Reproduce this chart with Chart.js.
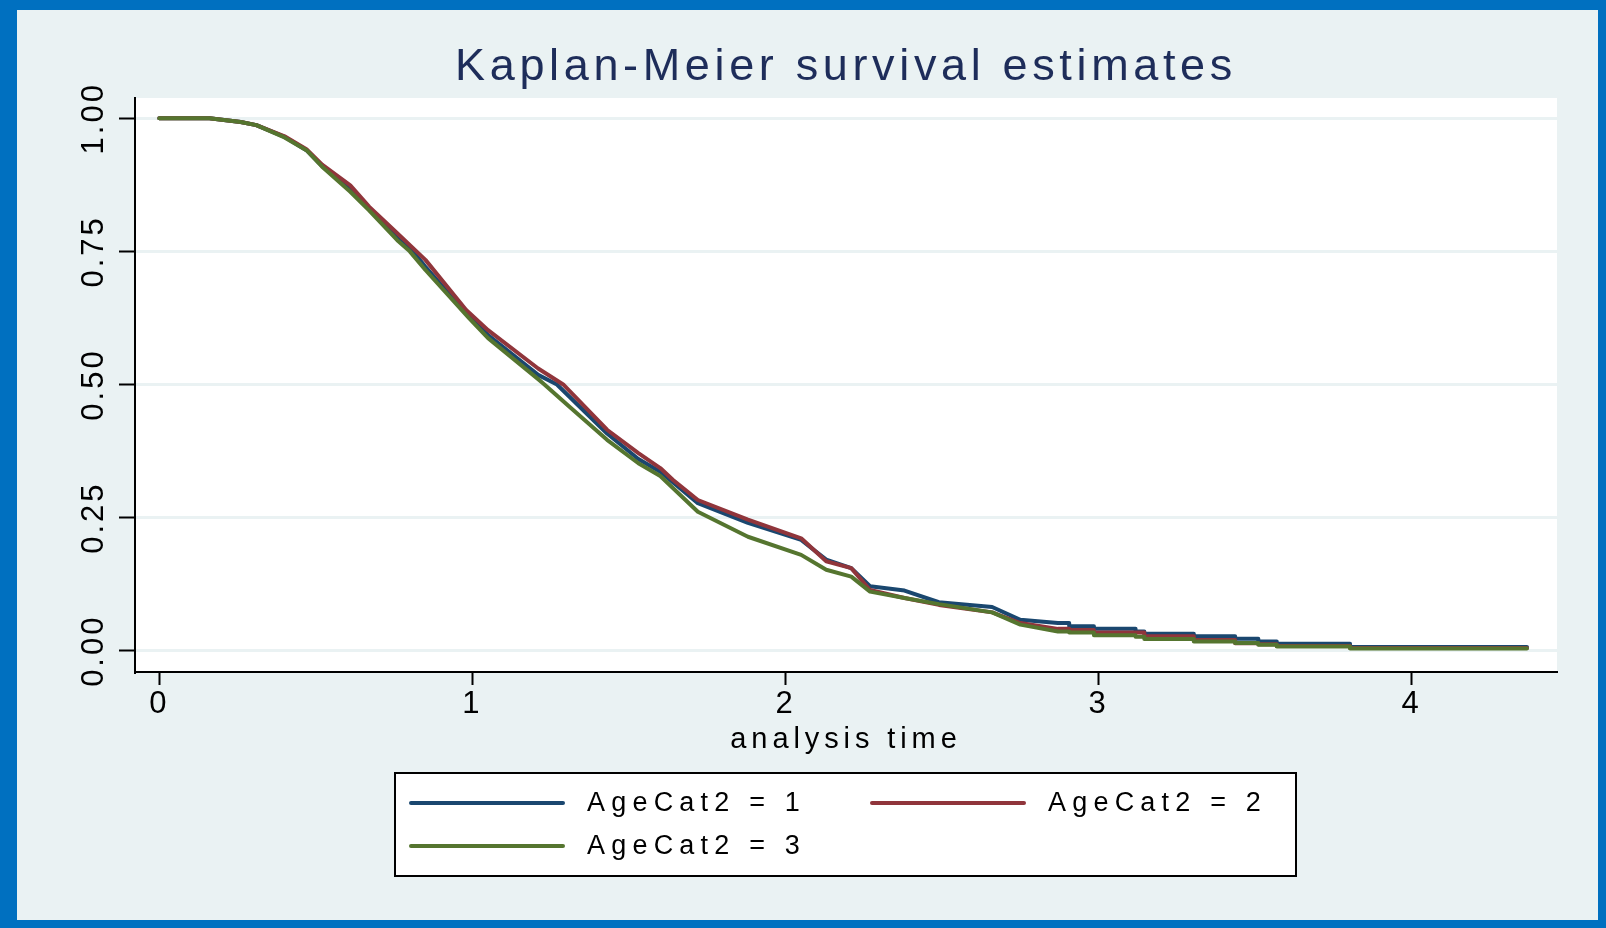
<!DOCTYPE html>
<html>
<head>
<meta charset="utf-8">
<title>Kaplan-Meier survival estimates</title>
<script src="https://cdn.jsdelivr.net/npm/chart.js@4.4.1/dist/chart.umd.min.js"></script>
<style>
  html, body { margin: 0; padding: 0; background: #0070C0; overflow: hidden; }
  canvas { display: block; }
</style>
</head>
<body>
<canvas id="km" width="1606" height="928"></canvas>
<script>
// ticks
const xTicks = [0, 1, 2, 3, 4];
const yTicks = [0, 0.25, 0.5, 0.75, 1];
const yTickLabels = ['0.00', '0.25', '0.50', '0.75', '1.00'];
const groupLabels = ['AgeCat2 = 1', 'AgeCat2 = 2', 'AgeCat2 = 3'];

// AgeCat2 = 1
const time1 = [0, 0.16, 0.26, 0.31, 0.40, 0.47, 0.52, 0.61, 0.67, 0.76,
  0.81, 0.85, 0.99, 1.05, 1.21, 1.27, 1.31, 1.43, 1.53,
  1.60, 1.72, 1.88, 2.05, 2.13, 2.21, 2.27, 2.38, 2.49, 2.66,
  2.75, 2.87, 2.906, 2.906, 2.985, 2.985, 3.118, 3.118, 3.146, 3.146,
  3.304, 3.304, 3.436, 3.436, 3.51, 3.51, 3.569, 3.569, 3.803, 3.803, 4.368];
const surv1 = [1, 1, 0.993, 0.987, 0.965, 0.94, 0.91, 0.868, 0.83, 0.775,
  0.75, 0.721, 0.627, 0.593, 0.518, 0.5, 0.477, 0.408, 0.36,
  0.336, 0.277, 0.24, 0.208, 0.171, 0.155, 0.121, 0.113, 0.091, 0.082,
  0.058, 0.052, 0.052, 0.046, 0.046, 0.041, 0.041, 0.036, 0.036, 0.032,
  0.032, 0.027, 0.027, 0.0225, 0.0225, 0.0175, 0.0175, 0.013, 0.013, 0.007, 0.007];

// AgeCat2 = 2
const time2 = [0, 0.16, 0.26, 0.31, 0.40, 0.47, 0.52, 0.61, 0.67,
  0.76, 0.85, 0.98, 1.05, 1.21, 1.29, 1.31, 1.43, 1.53,
  1.60, 1.64, 1.72, 1.88, 2.05, 2.13, 2.21, 2.27, 2.38, 2.49,
  2.66, 2.75, 2.87, 2.906, 2.906, 2.985, 2.985, 3.146, 3.146, 3.304,
  3.304, 3.436, 3.436, 3.51, 3.51, 3.569, 3.569, 3.803, 3.803, 4.368];
const surv2 = [1, 1, 0.993, 0.987, 0.966, 0.942, 0.913, 0.874, 0.834,
  0.784, 0.734, 0.64, 0.602, 0.53, 0.5, 0.488, 0.415, 0.371,
  0.343, 0.321, 0.283, 0.246, 0.211, 0.168, 0.155, 0.114, 0.099, 0.086,
  0.072, 0.052, 0.041, 0.041, 0.039, 0.039, 0.034, 0.034, 0.027, 0.027,
  0.02, 0.02, 0.014, 0.014, 0.012, 0.012, 0.009, 0.009, 0.005, 0.005];

// AgeCat2 = 3
const time3 = [0, 0.16, 0.26, 0.31, 0.40, 0.47, 0.52, 0.61, 0.67, 0.76,
  0.80, 0.85, 0.99, 1.05, 1.21, 1.23, 1.31, 1.43, 1.53,
  1.60, 1.72, 1.88, 2.05, 2.13, 2.21, 2.27, 2.38, 2.49, 2.66,
  2.75, 2.87, 2.906, 2.906, 2.985, 2.985, 3.118, 3.118, 3.146, 3.146,
  3.304, 3.304, 3.436, 3.436, 3.51, 3.51, 3.569, 3.569, 3.803, 3.803, 4.368];
const surv3 = [1, 1, 0.993, 0.987, 0.964, 0.94, 0.909, 0.862, 0.827, 0.771,
  0.75, 0.715, 0.624, 0.587, 0.51, 0.5, 0.458, 0.396, 0.352,
  0.328, 0.261, 0.214, 0.18, 0.152, 0.139, 0.111, 0.099, 0.0875, 0.072,
  0.049, 0.036, 0.036, 0.034, 0.034, 0.029, 0.029, 0.026, 0.026, 0.022,
  0.022, 0.0175, 0.0175, 0.0144, 0.0144, 0.0113, 0.0113, 0.008, 0.008, 0.004, 0.004];

const FONT = "'Liberation Sans', Arial, Helvetica, sans-serif";
const BG = '#EAF2F3';

function toPoints(t, s) {
  return t.map((v, i) => ({x: v, y: s[i]}));
}

// stata text is widely spaced, so wrap draw calls with a letter spacing
function spaced(obj, method, sp) {
  if (!obj || obj['_sp_' + method]) return;
  const orig = obj[method];
  obj[method] = function () {
    const ctx = this.ctx;
    const prev = ctx.letterSpacing;
    ctx.letterSpacing = sp;
    try { return orig.apply(this, arguments); } finally { ctx.letterSpacing = prev; }
  };
  obj['_sp_' + method] = true;
}

const stataFrame = {
  id: 'stataFrame',
  beforeDraw(chart) {
    const {ctx, width, height, chartArea: a} = chart;
    ctx.save();
    ctx.fillStyle = '#0070C0';
    ctx.fillRect(0, 0, width, height);
    ctx.fillStyle = BG;
    ctx.fillRect(17, 10, width - 25, height - 18);
    ctx.fillStyle = '#fff';
    ctx.fillRect(a.left, a.top, a.right - a.left, a.bottom - a.top);
    ctx.restore();

    spaced(chart.titleBlock, 'draw', '4.65px');
    spaced(chart.scales.x, 'drawLabels', '3px');
    spaced(chart.scales.x, 'drawTitle', '4.9px');
    spaced(chart.scales.y, 'drawLabels', '3px');
  },
  afterDraw(chart) {
    // legend box under the axis title
    const ctx = chart.ctx;
    const box = {left: 395, top: 773, right: 1296, bottom: 876};
    const cols = [411, 872];
    const rows = [803, 846];
    ctx.save();
    ctx.fillStyle = '#fff';
    ctx.fillRect(box.left, box.top, box.right - box.left, box.bottom - box.top);
    ctx.strokeStyle = '#000';
    ctx.lineWidth = 2;
    ctx.strokeRect(box.left, box.top, box.right - box.left, box.bottom - box.top);
    ctx.font = '27px ' + FONT;
    ctx.letterSpacing = '6.2px';
    ctx.textBaseline = 'middle';
    ctx.textAlign = 'left';
    chart.data.datasets.forEach((ds, i) => {
      const x = cols[i % 2];
      const y = rows[Math.floor(i / 2)];
      ctx.strokeStyle = ds.borderColor;
      ctx.lineWidth = 4;
      ctx.lineCap = 'round';
      ctx.beginPath();
      ctx.moveTo(x, y);
      ctx.lineTo(x + 152, y);
      ctx.stroke();
      ctx.fillStyle = '#000';
      ctx.fillText(ds.label, x + 176, y + 1);
    });
    ctx.restore();
  }
};

const lineStyle = {
  borderWidth: 4,
  pointRadius: 0,
  fill: false,
  tension: 0,
  borderCapStyle: 'round',
  borderJoinStyle: 'round'
};

const config = {
  type: 'line',
  data: {
    datasets: [
      Object.assign({label: groupLabels[0], data: toPoints(time1, surv1), borderColor: '#1A476F', backgroundColor: '#1A476F', order: 3}, lineStyle),
      Object.assign({label: groupLabels[1], data: toPoints(time2, surv2), borderColor: '#90353B', backgroundColor: '#90353B', order: 2}, lineStyle),
      Object.assign({label: groupLabels[2], data: toPoints(time3, surv3), borderColor: '#55752F', backgroundColor: '#55752F', order: 1}, lineStyle)
    ]
  },
  options: {
    responsive: false,
    animation: false,
    devicePixelRatio: 1,
    layout: {padding: {left: 17, right: 49, top: 10, bottom: 8}},
    plugins: {
      legend: {display: false},
      tooltip: {enabled: false},
      title: {
        display: true,
        text: 'Kaplan-Meier survival estimates',
        fullSize: false,
        color: '#1E2D5A',
        font: {family: FONT, size: 45, weight: 'normal', lineHeight: 1.2},
        padding: {top: 31, bottom: 3}
      }
    },
    scales: {
      x: {
        type: 'linear',
        min: -0.0776,
        max: 4.464,
        afterBuildTicks: s => { s.ticks = xTicks.map(v => ({value: v})); },
        afterFit: s => { s.height = 248; },
        grid: {drawOnChartArea: false, tickLength: 13, tickColor: '#000', tickWidth: 2},
        border: {display: true, color: '#000', width: 2},
        ticks: {
          color: '#000',
          font: {family: FONT, size: 31},
          padding: 1,
          maxRotation: 0,
          autoSkip: false,
          callback: v => String(v)
        },
        title: {
          display: true,
          text: 'analysis time',
          color: '#000',
          font: {family: FONT, size: 29},
          padding: {top: 0, bottom: 162.6}
        }
      },
      y: {
        type: 'linear',
        min: -0.040,
        max: 1.038,
        afterBuildTicks: s => { s.ticks = yTicks.map(v => ({value: v})); },
        afterFit: s => { s.width = 118; },
        grid: {color: BG, lineWidth: 3, tickColor: '#000', tickWidth: 2, tickLength: 16},
        border: {display: true, color: '#000', width: 2},
        ticks: {
          color: '#000',
          font: {family: FONT, size: 31},
          minRotation: 90,
          maxRotation: 90,
          crossAlign: 'center',
          padding: -5.45,
          autoSkip: false,
          callback: (v, i) => yTickLabels[i]
        }
      }
    }
  },
  plugins: [stataFrame]
};

const kmChart = new Chart(document.getElementById('km'), config);
</script>
</body>
</html>
